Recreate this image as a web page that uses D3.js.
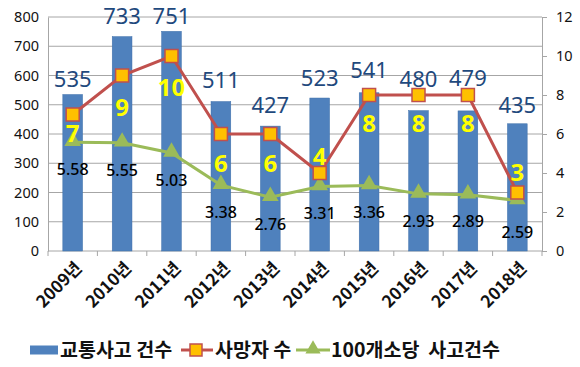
<!DOCTYPE html>
<html><head><meta charset="utf-8">
<script src="https://cdn.jsdelivr.net/npm/d3@7"></script>
<style>body{margin:0;background:#fff}</style>
</head><body><svg id="c" width="580" height="367"></svg>
<script>
const categories = ["2009년","2010년","2011년","2012년","2013년","2014년","2015년","2016년","2017년","2018년"];
const accidents = [535,733,751,511,427,523,541,480,479,435];
const deaths = [7,9,10,6,6,4,8,8,8,3];
const per100 = [5.58,5.55,5.03,3.38,2.76,3.31,3.36,2.93,2.89,2.59];
const leftTicks = [0,100,200,300,400,500,600,700,800];
const rightTicks = [0,2,4,6,8,10,12];
const seriesNames = ["교통사고 건수","사망자 수","100개소당  사고건수"];
// label placement (style only): gap between bar top and label centre, and death label side
const barLabelGap = [15,21,15,21,21,20,23,32,33,19];
const deathLabelGap = [19,32,31,29,29,-17,28,28,28,-20];

const svg = d3.select("#c");
const L = 48, R = 542, T = 17, B = 251;
const kfont = "'Noto Sans CJK KR','Noto Sans',sans-serif";
const nfont = "'Noto Sans','Open Sans',sans-serif";

const x = d3.scaleBand().domain(categories).range([L, R]).paddingInner(0.6).paddingOuter(0.3);
const xc = d => x(d) + x.bandwidth()/2;
const yL = d3.scaleLinear().domain([0,800]).range([B,T]);
const yR = d3.scaleLinear().domain([0,12]).range([B,T]);

// gridlines
svg.append("g").selectAll("line").data(leftTicks.slice(1)).join("line")
  .attr("x1", L).attr("x2", R).attr("y1", d=>yL(d)).attr("y2", d=>yL(d))
  .attr("stroke", "#a6a6a6").attr("stroke-width", 1);

// left axis
const gl = svg.append("g").attr("transform", `translate(${L},0)`)
  .call(d3.axisLeft(yL).tickValues(leftTicks).tickSize(0).tickPadding(9));
gl.select(".domain").attr("stroke","#a6a6a6");
gl.selectAll("text").attr("font-family", nfont).attr("font-size", 14.5).attr("fill","#111");

// right axis
const gr = svg.append("g").attr("transform", `translate(${R},0)`)
  .call(d3.axisRight(yR).tickValues(rightTicks).tickSize(5).tickPadding(9));
gr.select(".domain").attr("stroke","#a6a6a6");
gr.selectAll("line").attr("stroke","#a6a6a6");
gr.selectAll("text").attr("font-family", nfont).attr("font-size", 14.5).attr("fill","#111");

// bottom axis
const xb = d3.scaleLinear().domain([0,10]).range([L,R]);
const gb = svg.append("g").attr("transform", `translate(0,${B})`);
gb.append("line").attr("x1",L).attr("x2",R).attr("stroke","#a6a6a6");
gb.selectAll(".tk").data(d3.range(11)).join("line").attr("class","tk")
  .attr("x1", d=>xb(d)).attr("x2", d=>xb(d)).attr("y1",0).attr("y2",5).attr("stroke","#a6a6a6");
gb.selectAll("text").data(categories).join("text")
  .attr("transform", d => `translate(${xc(d)+6},${14}) rotate(-45)`)
  .attr("text-anchor","end").attr("dy","0.35em")
  .attr("font-family", kfont).attr("font-weight","bold").attr("font-size", 17).attr("fill","#111")
  .text(d=>d);

// bars
svg.append("g").selectAll("rect").data(accidents).join("rect")
  .attr("x", (d,i)=>x(categories[i])).attr("width", x.bandwidth())
  .attr("y", d=>yL(d)).attr("height", d=>B-yL(d))
  .attr("fill","#4F81BD").attr("stroke","#3f70aa").attr("stroke-width",0.5);

// bar labels
svg.append("g").selectAll("text").data(accidents).join("text")
  .attr("x",(d,i)=>xc(categories[i])).attr("y", (d,i)=>yL(d)-barLabelGap[i])
  .attr("dy","0.36em")
  .attr("text-anchor","middle").attr("font-family", nfont).attr("font-size", 22)
  .attr("fill","#1F497D").text(d=>d);

// green line
const lineG = d3.line().x((d,i)=>xc(categories[i])).y(d=>yR(d));
svg.append("path").datum(per100).attr("d", lineG).attr("fill","none")
  .attr("stroke","#9BBB59").attr("stroke-width",3);
svg.append("g").selectAll("path").data(per100).join("path")
  .attr("d", d3.symbol(d3.symbolTriangle, 120))
  .attr("transform",(d,i)=>`translate(${xc(categories[i])},${yR(d)-1})`)
  .attr("fill","#9BBB59");

// red line
svg.append("path").datum(deaths).attr("d", lineG).attr("fill","none")
  .attr("stroke","#C0504D").attr("stroke-width",3);
svg.append("g").selectAll("rect").data(deaths).join("rect")
  .attr("x",(d,i)=>xc(categories[i])-6.5).attr("y",d=>yR(d)-6.5)
  .attr("width",13).attr("height",13)
  .attr("fill","#FFC000").attr("stroke","#C0504D").attr("stroke-width",1.5);

// per100 labels
svg.append("g").selectAll("text").data(per100).join("text")
  .attr("x",(d,i)=>xc(categories[i])).attr("y", (d,i)=>yR(d)+ (i===9?32:27))
  .attr("dy","0.36em").attr("text-anchor","middle")
  .attr("font-family", nfont).attr("font-size", 16).attr("font-weight",500)
  .attr("fill","#000").text(d=>d.toFixed(2));

// death labels
svg.append("g").selectAll("text").data(deaths).join("text")
  .attr("x",(d,i)=>xc(categories[i])).attr("y",(d,i)=>yR(d) + deathLabelGap[i])
  .attr("dy","0.36em").attr("text-anchor","middle")
  .attr("font-family", nfont).attr("font-size", 24).attr("font-weight","bold")
  .attr("fill","#FFFF00").text(d=>d);

// legend
const lg = svg.append("g").attr("transform","translate(0,350)");
const lt = (xx, s) => lg.append("text").attr("x",xx).attr("dy","0.36em").attr("font-family",kfont)
  .attr("font-weight","bold").attr("font-size",19.5).attr("fill","#111").style("white-space","pre").text(s);
lg.append("rect").attr("x",30).attr("y",-4.5).attr("width",28).attr("height",9).attr("fill","#4F81BD");
lt(60, seriesNames[0]);
lg.append("line").attr("x1",181).attr("x2",213).attr("stroke","#C0504D").attr("stroke-width",3);
lg.append("rect").attr("x",190).attr("y",-6).attr("width",12).attr("height",12).attr("fill","#FFC000").attr("stroke","#C0504D").attr("stroke-width",1.5);
lt(215, seriesNames[1]);
lg.append("line").attr("x1",296).attr("x2",330).attr("stroke","#9BBB59").attr("stroke-width",3);
lg.append("path").attr("d", d3.symbol(d3.symbolTriangle,100)).attr("transform","translate(313,-1)").attr("fill","#9BBB59");
lt(331, seriesNames[2]);
</script></body></html>
